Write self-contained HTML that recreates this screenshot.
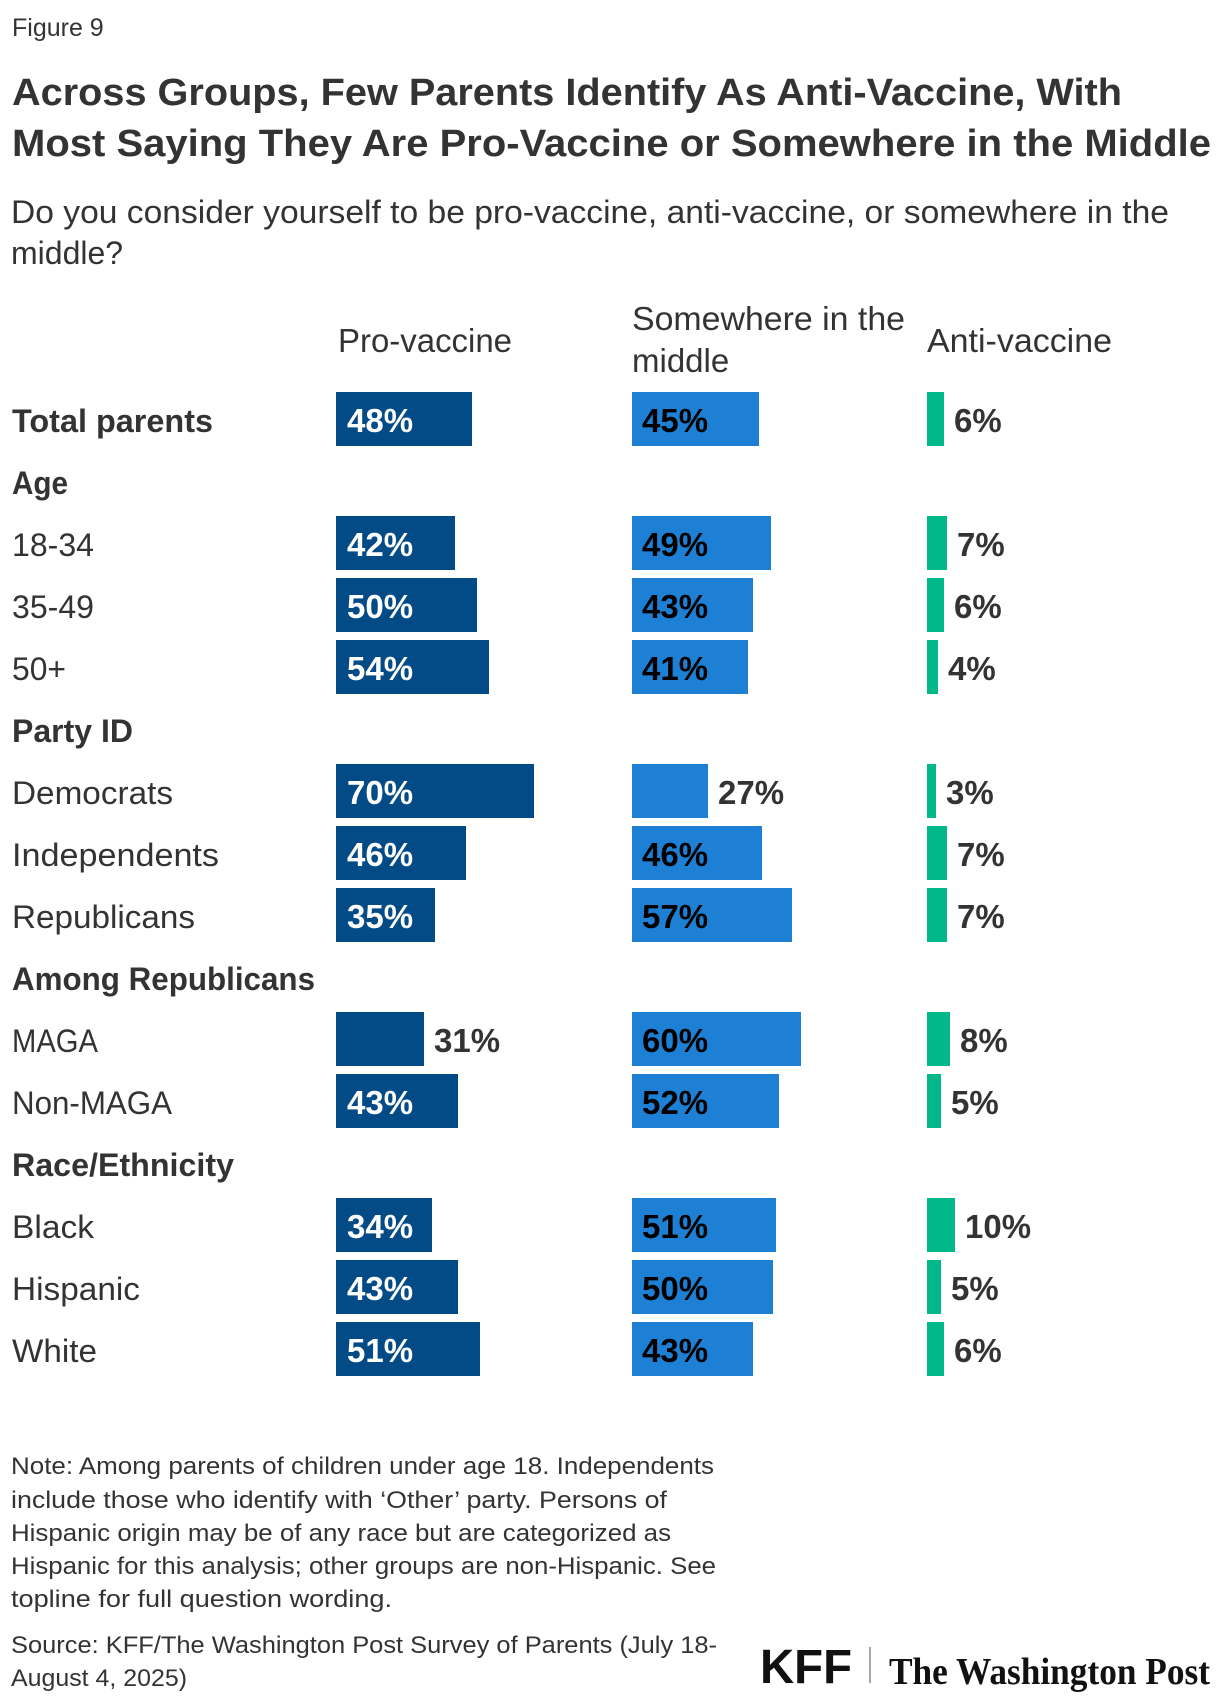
<!DOCTYPE html>
<html>
<head>
<meta charset="utf-8">
<style>
  html,body{margin:0;padding:0;background:#fff;}
  svg{display:block;}
  text{font-family:"Liberation Sans",Arial,sans-serif;}
  text.serif{font-family:"Liberation Serif","DejaVu Serif",serif;}
</style>
</head>
<body>
<svg width="1220" height="1704" viewBox="0 0 1220 1704" xmlns="http://www.w3.org/2000/svg">
  <rect width="1220" height="1704" fill="#fff"/>

  <!-- Figure label -->
  <text x="12" y="36" font-size="25" fill="#333">Figure 9</text>

  <!-- Title -->
  <text x="12" y="105" font-size="38" font-weight="bold" fill="#333" textLength="1110" lengthAdjust="spacingAndGlyphs">Across Groups, Few Parents Identify As Anti-Vaccine, With</text>
  <text x="12" y="156" font-size="38" font-weight="bold" fill="#333" textLength="1199" lengthAdjust="spacingAndGlyphs">Most Saying They Are Pro-Vaccine or Somewhere in the Middle</text>

  <!-- Subtitle -->
  <text x="11" y="223" font-size="32" fill="#333" textLength="1158" lengthAdjust="spacingAndGlyphs">Do you consider yourself to be pro-vaccine, anti-vaccine, or somewhere in the</text>
  <text x="11" y="264" font-size="32" fill="#333">middle?</text>

  <!-- Column headers -->
  <text x="338" y="352" font-size="33" fill="#333" textLength="174" lengthAdjust="spacingAndGlyphs">Pro-vaccine</text>
  <text x="632" y="330" font-size="33" fill="#333" textLength="273" lengthAdjust="spacingAndGlyphs">Somewhere in the</text>
  <text x="632" y="372" font-size="33" fill="#333">middle</text>
  <text x="927" y="352" font-size="33" fill="#333" textLength="185" lengthAdjust="spacingAndGlyphs">Anti-vaccine</text>

  <!-- Row labels -->
  <g font-size="32" fill="#333">
    <text x="12" y="432" font-weight="bold" textLength="201" lengthAdjust="spacingAndGlyphs">Total parents</text>
    <text x="12" y="494" font-weight="bold" textLength="56" lengthAdjust="spacingAndGlyphs">Age</text>
    <text x="12" y="556" textLength="82" lengthAdjust="spacingAndGlyphs">18-34</text>
    <text x="12" y="618" textLength="82" lengthAdjust="spacingAndGlyphs">35-49</text>
    <text x="12" y="680" textLength="54" lengthAdjust="spacingAndGlyphs">50+</text>
    <text x="12" y="742" font-weight="bold" textLength="121" lengthAdjust="spacingAndGlyphs">Party ID</text>
    <text x="12" y="804" textLength="161" lengthAdjust="spacingAndGlyphs">Democrats</text>
    <text x="12" y="866" textLength="207" lengthAdjust="spacingAndGlyphs">Independents</text>
    <text x="12" y="928" textLength="183" lengthAdjust="spacingAndGlyphs">Republicans</text>
    <text x="12" y="990" font-weight="bold" textLength="303" lengthAdjust="spacingAndGlyphs">Among Republicans</text>
    <text x="12" y="1052" textLength="86" lengthAdjust="spacingAndGlyphs">MAGA</text>
    <text x="12" y="1114" textLength="160" lengthAdjust="spacingAndGlyphs">Non-MAGA</text>
    <text x="12" y="1176" font-weight="bold" textLength="222" lengthAdjust="spacingAndGlyphs">Race/Ethnicity</text>
    <text x="12" y="1238" textLength="82" lengthAdjust="spacingAndGlyphs">Black</text>
    <text x="12" y="1300" textLength="128" lengthAdjust="spacingAndGlyphs">Hispanic</text>
    <text x="12" y="1362" textLength="85" lengthAdjust="spacingAndGlyphs">White</text>
  </g>

  <!-- Pro-vaccine bars -->
  <g fill="#034b87">
    <rect x="336" y="392" width="136" height="54"/>
    <rect x="336" y="516" width="119" height="54"/>
    <rect x="336" y="578" width="141" height="54"/>
    <rect x="336" y="640" width="153" height="54"/>
    <rect x="336" y="764" width="198" height="54"/>
    <rect x="336" y="826" width="130" height="54"/>
    <rect x="336" y="888" width="99" height="54"/>
    <rect x="336" y="1012" width="88" height="54"/>
    <rect x="336" y="1074" width="122" height="54"/>
    <rect x="336" y="1198" width="96" height="54"/>
    <rect x="336" y="1260" width="122" height="54"/>
    <rect x="336" y="1322" width="144" height="54"/>
  </g>
  <g font-size="33" font-weight="bold" fill="#fff">
    <text x="347" y="432">48%</text>
    <text x="347" y="556">42%</text>
    <text x="347" y="618">50%</text>
    <text x="347" y="680">54%</text>
    <text x="347" y="804">70%</text>
    <text x="347" y="866">46%</text>
    <text x="347" y="928">35%</text>
    <text x="347" y="1114">43%</text>
    <text x="347" y="1238">34%</text>
    <text x="347" y="1300">43%</text>
    <text x="347" y="1362">51%</text>
  </g>
  <text x="434" y="1052" font-size="33" font-weight="bold" fill="#333">31%</text>

  <!-- Middle bars -->
  <g fill="#1d80d4">
    <rect x="632" y="392" width="127" height="54"/>
    <rect x="632" y="516" width="139" height="54"/>
    <rect x="632" y="578" width="121" height="54"/>
    <rect x="632" y="640" width="116" height="54"/>
    <rect x="632" y="764" width="76" height="54"/>
    <rect x="632" y="826" width="130" height="54"/>
    <rect x="632" y="888" width="160" height="54"/>
    <rect x="632" y="1012" width="169" height="54"/>
    <rect x="632" y="1074" width="147" height="54"/>
    <rect x="632" y="1198" width="144" height="54"/>
    <rect x="632" y="1260" width="141" height="54"/>
    <rect x="632" y="1322" width="121" height="54"/>
  </g>
  <g font-size="33" font-weight="bold" fill="#000">
    <text x="642" y="432">45%</text>
    <text x="642" y="556">49%</text>
    <text x="642" y="618">43%</text>
    <text x="642" y="680">41%</text>
    <text x="642" y="866">46%</text>
    <text x="642" y="928">57%</text>
    <text x="642" y="1052">60%</text>
    <text x="642" y="1114">52%</text>
    <text x="642" y="1238">51%</text>
    <text x="642" y="1300">50%</text>
    <text x="642" y="1362">43%</text>
  </g>
  <text x="718" y="804" font-size="33" font-weight="bold" fill="#333">27%</text>

  <!-- Anti-vaccine bars -->
  <g fill="#00b88a">
    <rect x="927" y="392" width="17" height="54"/>
    <rect x="927" y="516" width="20" height="54"/>
    <rect x="927" y="578" width="17" height="54"/>
    <rect x="927" y="640" width="11" height="54"/>
    <rect x="927" y="764" width="9" height="54"/>
    <rect x="927" y="826" width="20" height="54"/>
    <rect x="927" y="888" width="20" height="54"/>
    <rect x="927" y="1012" width="23" height="54"/>
    <rect x="927" y="1074" width="14" height="54"/>
    <rect x="927" y="1198" width="28" height="54"/>
    <rect x="927" y="1260" width="14" height="54"/>
    <rect x="927" y="1322" width="17" height="54"/>
  </g>
  <g font-size="33" font-weight="bold" fill="#333">
    <text x="954" y="432">6%</text>
    <text x="957" y="556">7%</text>
    <text x="954" y="618">6%</text>
    <text x="948" y="680">4%</text>
    <text x="946" y="804">3%</text>
    <text x="957" y="866">7%</text>
    <text x="957" y="928">7%</text>
    <text x="960" y="1052">8%</text>
    <text x="951" y="1114">5%</text>
    <text x="965" y="1238">10%</text>
    <text x="951" y="1300">5%</text>
    <text x="954" y="1362">6%</text>
  </g>

  <!-- Notes -->
  <g font-size="24" fill="#333">
    <text x="11" y="1474" textLength="703" lengthAdjust="spacingAndGlyphs">Note: Among parents of children under age 18. Independents</text>
    <text x="11" y="1508" textLength="656" lengthAdjust="spacingAndGlyphs">include those who identify with ‘Other’ party. Persons of</text>
    <text x="11" y="1541" textLength="660" lengthAdjust="spacingAndGlyphs">Hispanic origin may be of any race but are categorized as</text>
    <text x="11" y="1574" textLength="705" lengthAdjust="spacingAndGlyphs">Hispanic for this analysis; other groups are non-Hispanic. See</text>
    <text x="11" y="1607" textLength="381" lengthAdjust="spacingAndGlyphs">topline for full question wording.</text>
    <text x="11" y="1653" textLength="706" lengthAdjust="spacingAndGlyphs">Source: KFF/The Washington Post Survey of Parents (July 18-</text>
    <text x="11" y="1686" textLength="176" lengthAdjust="spacingAndGlyphs">August 4, 2025)</text>
  </g>

  <!-- Logos -->
  <text x="760" y="1683" font-size="48" font-weight="bold" fill="#111" textLength="92" lengthAdjust="spacingAndGlyphs">KFF</text>
  <line x1="870" y1="1647" x2="870" y2="1683" stroke="#888" stroke-width="1.5"/>
  <text class="serif" x="889" y="1684" font-size="38" font-weight="bold" fill="#111" textLength="321" lengthAdjust="spacingAndGlyphs" style="font-family:'Liberation Serif','DejaVu Serif',serif;">The Washington Post</text>
</svg>
</body>
</html>
